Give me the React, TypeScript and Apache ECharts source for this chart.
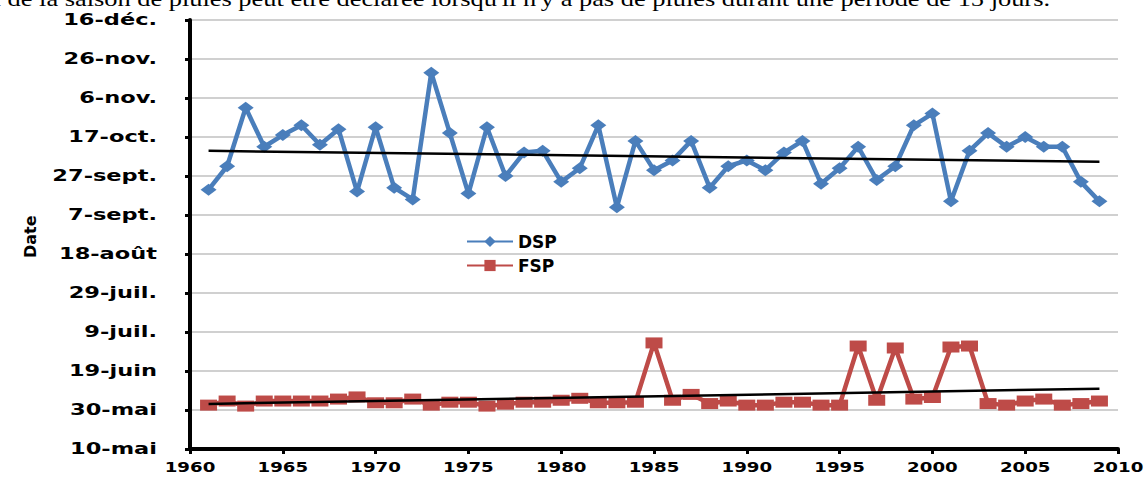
import React, { useEffect, useRef } from "react";
import * as echarts from "echarts";

// Years of observation
const years: number[] = Array.from({ length: 49 }, (_, i) => 1961 + i);

// Dates expressed as days after 10 May
const dspDays: number[] = [
  133, 145, 175, 155, 161, 166, 156, 164, 132, 165,
  134, 128, 193, 162, 131, 165, 140, 152, 153, 137,
  144, 166, 124, 158, 143, 148, 158, 134, 145, 148,
  143, 152, 158, 136, 144, 155, 138, 145, 166, 172,
  127, 153, 162, 155, 160, 155, 155, 137, 127,
];

const fspDays: number[] = [
  22.5, 24.6, 22, 24.6, 24.6, 24.6, 24.6, 25.6, 26.7, 23.7,
  23.7, 25.6, 22.5, 24, 24, 22, 23, 24, 24, 25,
  26, 23.7, 23.7, 24, 54.4, 25, 28, 23.3, 24.6, 22.5,
  22.5, 24, 24, 22.5, 22.5, 52.8, 25, 51.8, 25.6, 26.4,
  52.3, 52.8, 23.3, 22.5, 24.6, 25.6, 22.5, 23.3, 24.6,
];

const yTickValues: number[] = [0, 20, 40, 60, 80, 100, 120, 140, 160, 180, 200, 220];
const yTickLabels: string[] = [
  "10-mai", "30-mai", "19-juin", "9-juil.", "29-juil.", "18-août",
  "7-sept.", "27-sept.", "17-oct.", "6-nov.", "26-nov.", "16-déc.",
];
const xTickValues: number[] = [1960, 1965, 1970, 1975, 1980, 1985, 1990, 1995, 2000, 2005, 2010];

const captionText =
  "fin de la saison de pluies peut être déclarée lorsqu'il n'y a pas de pluies durant une période de 15 jours.";

function linearFit(xs: number[], ys: number[]): number[][] {
  const n = xs.length;
  let sx = 0, sy = 0, sxx = 0, sxy = 0;
  for (let i = 0; i < n; i++) {
    sx += xs[i]; sy += ys[i]; sxx += xs[i] * xs[i]; sxy += xs[i] * ys[i];
  }
  const b = (n * sxy - sx * sy) / (n * sxx - sx * sx);
  const a = (sy - b * sx) / n;
  const x0 = xs[0], x1 = xs[n - 1];
  return [[x0, a + b * x0], [x1, a + b * x1]];
}

export default function App() {
  const ref = useRef<HTMLDivElement>(null);
  useEffect(() => {
    if (!ref.current) return;
    const chart = echarts.init(ref.current, null, { renderer: "svg" });
    const font = "DejaVu Sans";
    const dspData = years.map((y, i) => [y, dspDays[i]]);
    const fspData = years.map((y, i) => [y, fspDays[i]]);
    chart.setOption({
      animation: false,
      backgroundColor: "#ffffff",
      grid: { left: 190, right: 27, top: 20, bottom: 31 },
      legend: {
        data: ["DSP", "FSP"],
        orient: "vertical",
        left: 461,
        top: 228,
        itemWidth: 46,
        itemHeight: 14,
        itemGap: 7,
        textStyle: { fontFamily: font, fontWeight: "bold", fontSize: 17, color: "#000" },
      },
      xAxis: {
        type: "value",
        min: 1960,
        max: 2010,
        interval: 5,
        axisLine: { show: true, lineStyle: { color: "#000", width: 4 } },
        axisTick: { show: true, length: 5, lineStyle: { color: "#000", width: 3 } },
        axisLabel: { show: false },
        splitLine: { show: false },
      },
      yAxis: {
        type: "value",
        min: 0,
        max: 220,
        interval: 20,
        axisLine: { show: true, lineStyle: { color: "#000", width: 4 } },
        axisTick: { show: true, length: 5, lineStyle: { color: "#000", width: 3 } },
        axisLabel: { show: false },
        splitLine: { show: true, lineStyle: { color: "#c0c0c0", width: 1.5 } },
      },
      series: [
        {
          name: "DSP",
          type: "line",
          data: dspData,
          symbol: "diamond",
          symbolSize: [16, 12],
          lineStyle: { color: "#4a7ebb", width: 4.5 },
          itemStyle: { color: "#4a7ebb" },
          z: 3,
        },
        {
          name: "FSP",
          type: "line",
          data: fspData,
          symbol: "rect",
          symbolSize: [17, 11],
          lineStyle: { color: "#be4b48", width: 4.5 },
          itemStyle: { color: "#be4b48" },
          z: 3,
        },
        {
          name: "DSP trend",
          type: "line",
          data: linearFit(years, dspDays),
          symbol: "none",
          lineStyle: { color: "#000", width: 2.5 },
          z: 4,
        },
        {
          name: "FSP trend",
          type: "line",
          data: linearFit(years, fspDays),
          symbol: "none",
          lineStyle: { color: "#000", width: 2.5 },
          z: 4,
        },
      ],
    });

    // Tick labels drawn through the axes' own scales, stretched like the reference
    const axisX = chart.convertToPixel({ xAxisIndex: 0 }, 1960) as number;
    const axisY = chart.convertToPixel({ yAxisIndex: 0 }, 0) as number;
    const labelStyle = { fontFamily: font, fontWeight: "bold", fill: "#000" };
    const graphics: any[] = [];
    yTickValues.forEach((v, i) => {
      graphics.push({
        type: "text",
        x: axisX - 33,
        y: chart.convertToPixel({ yAxisIndex: 0 }, v) as number,
        scaleX: 1.5,
        style: {
          ...labelStyle,
          text: yTickLabels[i],
          fontSize: 15,
          textAlign: "right",
          textVerticalAlign: "middle",
        },
      });
    });
    xTickValues.forEach((v) => {
      graphics.push({
        type: "text",
        x: chart.convertToPixel({ xAxisIndex: 0 }, v) as number,
        y: axisY + 18,
        scaleX: 1.3,
        style: {
          ...labelStyle,
          text: String(v),
          fontSize: 14,
          textAlign: "center",
          textVerticalAlign: "middle",
        },
      });
    });
    graphics.push({
      type: "text",
      x: 22,
      y: 258,
      rotation: Math.PI / 2,
      style: {
        ...labelStyle,
        text: "Date",
        fontSize: 16,
        textAlign: "left",
        textVerticalAlign: "top",
      },
    });
    graphics.push({
      type: "text",
      x: 1050,
      y: 9,
      scaleX: 1.2,
      style: {
        text: captionText,
        fontFamily: "Liberation Serif",
        fontSize: 22,
        fill: "#000",
        textAlign: "right",
        textVerticalAlign: "bottom",
      },
    });
    chart.setOption({ graphic: graphics });

    return () => chart.dispose();
  }, []);
  return (
    <div
      ref={ref}
      style={{ position: "fixed", left: 0, top: 0, width: 1145, height: 480 }}
    />
  );
}
